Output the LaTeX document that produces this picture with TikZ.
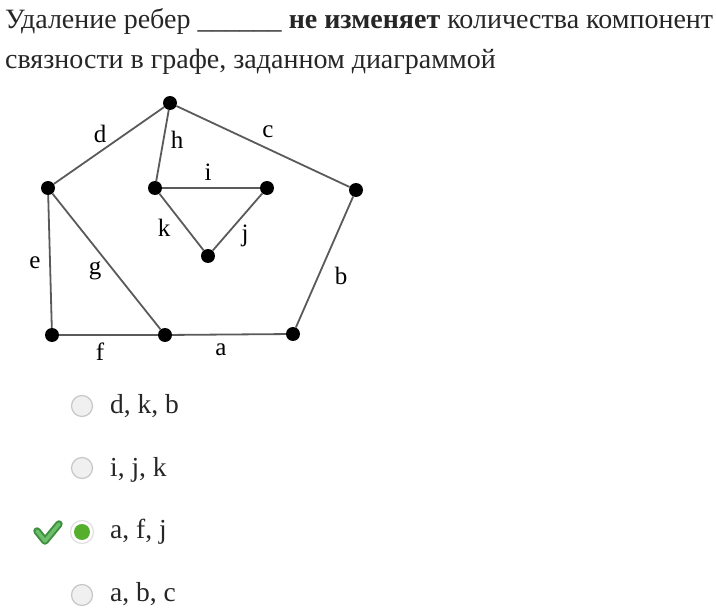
\documentclass[tikz,border=0pt]{standalone}
\usepackage{fontspec}
\setmainfont{Liberation Serif}
\definecolor{edgegray}{HTML}{5A5A5A}
\definecolor{okgreen}{HTML}{55AE2C}
\definecolor{chkdark}{HTML}{3F8F3F}
\definecolor{chklight}{HTML}{6CC06C}
\begin{document}
\begin{tikzpicture}[x=1pt,y=-1pt,
    vertex/.style={circle,fill=black,inner sep=0pt,minimum size=14pt},
    edge/.style={draw=edgegray,line width=1.8pt},
    elabel/.style={inner sep=0pt,font=\fontsize{25}{28}\selectfont},
    qtext/.style={anchor=base west,inner sep=0pt,font=\fontsize{28}{32}\selectfont,text=black!85},
    atext/.style={anchor=base west,inner sep=0pt,font=\fontsize{27.5}{32}\selectfont,text=black!85},
    radio/.style={circle,draw=black!22,fill=black!6,line width=1.2pt,minimum size=21pt,inner sep=0pt},
    radioon/.style={circle,draw=black!12,fill=white,line width=1.2pt,minimum size=23pt,inner sep=0pt},
  ]
  \useasboundingbox (0,0) rectangle (716,610);

  % question
  \node[qtext] (line1) at (5,29) {Удаление ребер \_\_\_\_\_\_ \textbf{не изменяет} количества компонент};
  \node[qtext] (line2) at (5,69) {связности в графе, заданном диаграммой};

  % graph
  \node[vertex] (top) at (170,103) {};
  \node[vertex] (left) at (48,188) {};
  \node[vertex] (right) at (356,190) {};
  \node[vertex] (botl) at (52,335) {};
  \node[vertex] (botm) at (165,335) {};
  \node[vertex] (botr) at (293,334) {};
  \node[vertex] (inl) at (155,188) {};
  \node[vertex] (inr) at (267,188) {};
  \node[vertex] (inb) at (208,256) {};

  \draw[edge] (botm) -- (botr);
  \draw[edge] (botr) -- (right);
  \draw[edge] (top) -- (right);
  \draw[edge] (top) -- (left);
  \draw[edge] (left) -- (botl);
  \draw[edge] (botl) -- (botm);
  \draw[edge] (left) -- (botm);
  \draw[edge] (top) -- (inl);
  \draw[edge] (inl) -- (inr);
  \draw[edge] (inr) -- (inb);
  \draw[edge] (inl) -- (inb);

  \node[elabel] (la) at (221,350) {a};
  \node[elabel] (lb) at (341,276) {b};
  \node[elabel] (lc) at (268,132) {c};
  \node[elabel] (ld) at (100,134) {d};
  \node[elabel] (le) at (35,263) {e};
  \node[elabel] (lf) at (100,352) {f};
  \node[elabel] (lg) at (95,271) {g};
  \node[elabel] (lh) at (177,140) {h};
  \node[elabel] (li) at (208,172) {i};
  \node[elabel] (lj) at (245,236) {j};
  \node[elabel] (lk) at (164,228) {k};

  % answers
  \node[radio] (r1) at (82,406) {};
  \node[radio] (r2) at (82,468) {};
  \node[radioon] (r3) at (82,532) {};
  \node[circle,fill=okgreen,minimum size=16pt,inner sep=0pt] (r3dot) at (r3) {};
  \node[radio] (r4) at (82,595) {};
  \node[atext] (o1) at (110,413) {d, k, b};
  \node[atext] (o2) at (110,476) {i, j, k};
  \node[atext] (o3) at (110,538) {a, f, j};
  \node[atext] (o4) at (110,601) {a, b, c};

  \coordinate (ck1) at (37,531);
  \coordinate (ck2) at (45,541);
  \coordinate (ck3) at (59,524);
  \draw[chkdark,line width=7.5pt,line join=round,line cap=round] (ck1) -- (ck2) -- (ck3);
  \draw[chklight,line width=3.5pt,line join=round,line cap=round] (ck1) -- (ck2) -- (ck3);
\end{tikzpicture}
\end{document}
